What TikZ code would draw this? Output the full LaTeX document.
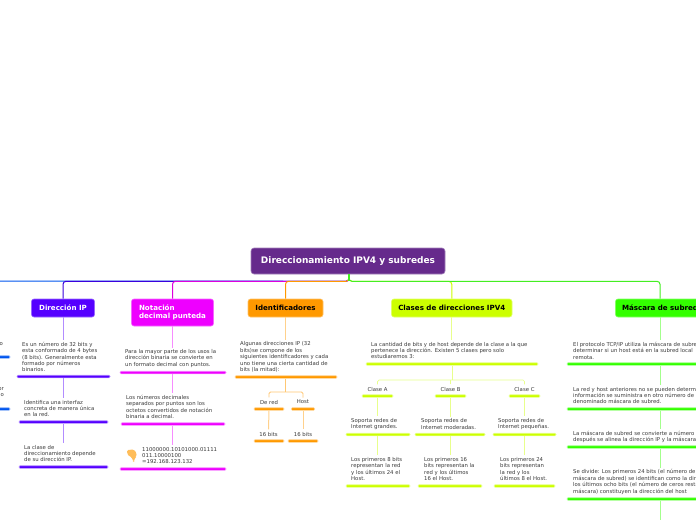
\documentclass[tikz,border=0pt]{standalone}
\usepackage{fontspec}
\setmainfont{DejaVu Sans}
\definecolor{cA}{HTML}{5500FF}
\definecolor{cB}{HTML}{EE00FF}
\definecolor{cC}{HTML}{FF9900}
\definecolor{cD}{HTML}{CCFF00}
\definecolor{cE}{HTML}{33FF00}
\definecolor{cRoot}{HTML}{662A8C}
\definecolor{cTxt}{HTML}{3A3A3A}
\definecolor{cLeft}{HTML}{0055EE}
\definecolor{cTrunkA}{HTML}{3A00DD}
\definecolor{cTrunkB}{HTML}{DD00DD}
\definecolor{cTrunkE}{HTML}{44EE22}
\tikzset{
  rootbox/.style={fill=cRoot,draw=cRoot!60,line width=.6pt,rounded corners=3pt,text=white,font=\fontsize{9}{10}\selectfont\bfseries,minimum width=194pt,minimum height=26pt,inner sep=0pt},
  topic/.style={fill=#1,draw=#1!60,line width=.6pt,rounded corners=2.5pt,font=\fontsize{7.1}{8.4}\selectfont\bfseries,inner sep=0pt,align=left},
  txt/.style={anchor=west,inner sep=0pt,outer ysep=2pt,align=left,text=cTxt,font=\fontsize{5.35}{6.4}\selectfont},
  ctxt/.style={inner sep=0pt,outer ysep=2.5pt,align=center,text=cTxt,font=\fontsize{5.35}{6.4}\selectfont},
  bar/.style={fill=#1,draw=#1!35,line width=.6pt,rounded corners=1pt,minimum height=2.6pt,inner sep=0pt},
  link/.style={draw=#1!45,line width=1pt},
  trunk/.style={draw=#1,line width=1pt,rounded corners=3pt},
}
\begin{document}
\begin{tikzpicture}[x=1pt,y=-1pt]
\useasboundingbox (0,0) rectangle (696,520);
\clip (0,0) rectangle (696,520);
\fill[white] (0,0) rectangle (696,520);

\node[rootbox] (root) at (348,261) {Direccionamiento IPV4 y subredes};
\node[topic=cA,text=white,minimum width=63pt,minimum height=18pt] (tA) at (63,308) {Dirección IP};
\node[topic=cB,text=white,minimum width=82pt,minimum height=27pt] (tB) at (172.5,312.5) {Notación\\decimal punteda};
\node[topic=cC,text=black,minimum width=75pt,minimum height=18pt] (tC) at (285.5,308) {Identificadores};
\node[topic=cD,text=black,minimum width=120.5pt,minimum height=18pt] (tD) at (451.75,308) {Clases de direcciones IPV4};
\node[topic=cE,text=black,minimum width=89pt,minimum height=18pt] (tE) at (660,308) {Máscara de subred};
\coordinate (leftend) at (0,281);

% trunk
\draw[trunk=cLeft] (root.south) ++(1,0) -- ++(0,7) -- (leftend);
\draw[trunk=cTrunkA] (root.south) ++(1,0) -- ++(0,7) -| (tA.north);
\draw[trunk=cTrunkB] (root.south) ++(1,0) -- ++(0,7) -| (tB.north);
\draw[trunk=cC] (root.south) ++(1,0) -- ++(0,7) -| (tC.north);
\draw[trunk=cD] (root.south) ++(1,0) -- ++(0,7) -| (tD.north);
\draw[trunk=cTrunkE] (root.south) ++(1,0) -- ++(0,7) -| (tE.north);
\draw[draw=cTrunkE,line width=1.8pt] (root.south) ++(1,0) -- ++(0,7);

% left fragments
\node[txt,anchor=east] (lf1) at (3,344) {o};
\node[bar=cLeft,minimum width=14pt] (lb1) at (3,357) {};
\node[txt,anchor=east,align=right] (lf2) at (4,392) {or\\o};
\node[bar=cLeft,minimum width=14pt] (lb2) at (3,409) {};

% column A
\node[txt] (a1) at (22,357) {Es un número de 32 bits y\\esta conformado de 4 bytes\\(8 bits). Generalmente esta\\formado por números\\binarios.};
\node[bar=cA,minimum width=93pt] (ab1) at (63.5,376.5) {};
\node[txt] (a2) at (24,408.5) {Identifica una interfaz\\concreta de manera única\\en la red.};
\node[bar=cA,minimum width=89pt] (ab2) at (63.5,422) {};
\node[txt] (a3) at (24,453.5) {La clase de\\direccionamiento depende\\de su dirección IP.};
\node[bar=cA,minimum width=89pt] (ab3) at (63.5,467) {};
\draw[link=cA] (tA.south) -- (tA.south |- a1.north);
\draw[link=cA] (ab1.south -| tA.south) -- (tA.south |- a2.north);
\draw[link=cA] (ab2.south -| tA.south) -- (tA.south |- a3.north);

% column B
\node[txt] (b1) at (125,358.5) {Para la mayor parte de los usos la\\dirección binaria se convierte en\\un formato decimal con puntos.};
\node[bar=cB,minimum width=106pt] (bb1) at (173,372.5) {};
\node[txt] (b2) at (126,407) {Los números decimales\\separados por puntos son los\\octetos convertidos de notación\\binaria a decimal.};
\node[bar=cB,minimum width=104pt] (bb2) at (173,424) {};
\node[txt] (b3) at (142,455.5) {11000000.10101000.01111\\011.10000100\\=192.168.123.132};
\node[bar=cB,minimum width=106pt] (bb3) at (173,469) {};
\fill[fill=cC!65!white,rounded corners=1.5pt] (127,450) -- (134,449.5) -- (136.5,453) -- (136.5,456.5) -- (135,457.5) -- (134.3,461.5) -- (132.8,461.5) -- (132.2,457.5) -- (129.5,456.5) -- (127,453.5) -- cycle;
\draw[link=cB] (tB.south) -- (tB.south |- b1.north);
\draw[link=cB] (bb1.south -| tB.south) -- (tB.south |- b2.north);
\draw[link=cB] (bb2.south -| tB.south) -- (tB.south |- b3.north);

% column C
\node[txt] (c1) at (240,357) {Algunas direcciones IP  (32\\bits)se compone de los\\siguientes identificadores y cada\\uno tiene una cierta cantidad de\\bits (la mitad):};
\node[bar=cC,minimum width=102pt] (cb1) at (286,377) {};
\node[ctxt] (c2) at (269,402) {De red};
\node[bar=cC,minimum width=30pt] (cb2) at (269,409) {};
\node[ctxt] (c3) at (303,402) {Host};
\node[bar=cC,minimum width=23.5pt] (cb3) at (303,409) {};
\node[ctxt] (c4) at (268.5,434) {16 bits};
\node[bar=cC,minimum width=30pt] (cb4) at (269,441) {};
\node[ctxt] (c5) at (303,434) {16 bits};
\node[bar=cC,minimum width=30pt] (cb5) at (303,441) {};
\draw[link=cC] (tC.south) -- (tC.south |- c1.north);
\draw[draw=cC!55,line width=.9pt] (cb1.south -| tC.south) -- (tC.south |- 0,392);
\draw[draw=cC!55,line width=.9pt,rounded corners=1.5pt] (c2.north) |- (c3.north |- 0,392) -- (c3.north);
\draw[link=cC] (cb2.south) -- (c4.north);
\draw[link=cC] (cb3.south) -- (c5.north);

% column D
\node[txt] (d1) at (371,350.5) {La cantidad de bits y de host depende de la clase a la que\\pertenece la dirección. Existen 5 clases pero solo\\estudiaremos 3:};
\node[bar=cD,minimum width=172pt] (db1) at (452,364) {};
\node[ctxt] (dA) at (377.5,389) {Clase A};
\node[bar=cD,minimum width=31pt] (dbA) at (377.5,396) {};
\node[ctxt] (dB) at (450.5,389) {Clase B};
\node[bar=cD,minimum width=31pt] (dbB) at (450.5,396) {};
\node[ctxt] (dC) at (524.5,389) {Clase C};
\node[bar=cD,minimum width=31pt] (dbC) at (524.5,396) {};
\node[txt] (dA2) at (351,424) {Soporta redes de\\Internet grandes.};
\node[bar=cD,minimum width=64pt] (dbA2) at (378,434.5) {};
\node[txt] (dB2) at (421,424) {Soporta redes de\\Internet moderadas.};
\node[bar=cD,minimum width=70pt] (dbB2) at (450,434.5) {};
\node[txt] (dC2) at (498,424) {Soporta redes de\\Internet pequeñas.};
\node[bar=cD,minimum width=63pt] (dbC2) at (524.5,434.5) {};
\node[txt] (dA3) at (351,469) {Los primeros 8 bits\\representan la red\\y los últimos 24 el\\Host.};
\node[bar=cD,minimum width=64pt] (dbA3) at (378,486) {};
\node[txt] (dB3) at (424,469) {Los primeros 16\\bits representan la\\red y los últimos\\16 el Host.};
\node[bar=cD,minimum width=64pt] (dbB3) at (450,486) {};
\node[txt] (dC3) at (500,469) {Los primeros 24\\bits representan\\la red y los\\últimos 8 el Host.};
\node[bar=cD,minimum width=61pt] (dbC3) at (524.5,486) {};
\draw[link=cD] (tD.south) -- (tD.south |- d1.north);
\draw[link=cD] (db1.south) -- (db1.south |- 0,380);
\draw[draw=cD!45,line width=.7pt,rounded corners=1.5pt] (dA.north) |- (dC.north |- 0,380) -- (dC.north);
\draw[draw=cD!45,line width=.7pt] (dB.north) -- (dB.north |- 0,380);
\draw[link=cD] (dbA.south) -- (dbA.south |- dA2.north);
\draw[link=cD] (dbB.south) -- (dbB.south |- dB2.north);
\draw[link=cD] (dbC.south) -- (dbC.south |- dC2.north);
\draw[link=cD] (dbA2.south -| dbA.south) -- (dbA.south |- dA3.north);
\draw[link=cD] (dbB2.south -| dbB.south) -- (dbB.south |- dB3.north);
\draw[link=cD] (dbC2.south -| dbC.south) -- (dbC.south |- dC3.north);

% column E
\node[txt] (e1) at (573,350.5) {El protocolo TCP/IP utiliza la máscara de subred\\determinar si un host está en la subred local\\remota.};
\node[bar=cE,minimum width=160pt] (eb1) at (647,364) {};
\node[txt] (e2) at (573,395.5) {La red y host anteriores no se pueden determinar\\información se suministra en otro número de\\denominado máscara de subred.};
\node[bar=cE,minimum width=160pt] (eb2) at (647,409) {};
\node[txt] (e3) at (573,437) {La máscara de subred se convierte a número\\después se alinea la dirección IP y la máscara};
\node[bar=cE,minimum width=160pt] (eb3) at (647,447) {};
\node[txt] (e4) at (573,482) {Se divide: Los primeros 24 bits (el número de\\máscara de subred) se identifican como la dirección\\los últimos ocho bits (el número de ceros restantes\\máscara) constituyen la dirección del host};
\node[bar=cE,minimum width=160pt] (eb4) at (647,499) {};
\coordinate (eend) at (660,520);
\draw[link=cE] (tE.south) -- (tE.south |- e1.north);
\draw[link=cE] (eb1.south -| tE.south) -- (tE.south |- e2.north);
\draw[link=cE] (eb2.south -| tE.south) -- (tE.south |- e3.north);
\draw[link=cE] (eb3.south -| tE.south) -- (tE.south |- e4.north);
\draw[link=cE] (eb4.south -| tE.south) -- (eend);
\end{tikzpicture}
\end{document}
